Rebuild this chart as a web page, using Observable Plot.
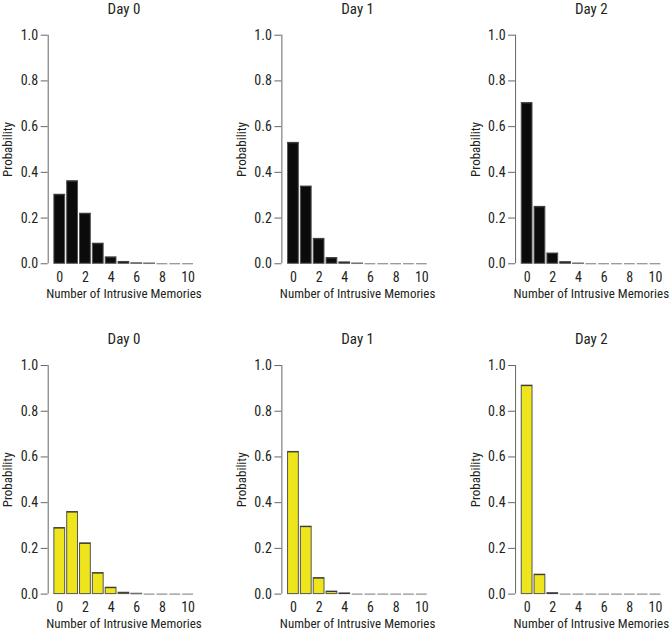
<!DOCTYPE html>
<html>
<head>
<meta charset="utf-8">
<script src="https://cdn.jsdelivr.net/npm/d3@7"></script>
<script src="https://cdn.jsdelivr.net/npm/@observablehq/plot@0.6"></script>
<style>
  html, body { margin: 0; padding: 0; background: #fff; }
  #chart svg { font-family: "Liberation Sans Narrow", "Roboto Condensed", "DejaVu Sans Condensed", sans-serif; font-weight: normal; }
</style>
</head>
<body>
<div id="chart"></div>
<script>
// Data
const counts = [0, 1, 2, 3, 4, 5, 6, 7, 8, 9, 10];
const days = ["Day 0", "Day 1", "Day 2"];
const groups = ["Black", "Yellow"];
const blackDay0 = [0.302, 0.361, 0.219, 0.088, 0.028, 0.008, 0.002, 0.001, 0, 0, 0];
const blackDay1 = [0.529, 0.338, 0.109, 0.025, 0.006, 0.001, 0, 0, 0, 0, 0];
const blackDay2 = [0.703, 0.249, 0.045, 0.007, 0.001, 0, 0, 0, 0, 0, 0];
const yellowDay0 = [0.289, 0.359, 0.222, 0.092, 0.028, 0.006, 0.0015, 0, 0, 0, 0];
const yellowDay1 = [0.622, 0.295, 0.070, 0.011, 0.003, 0, 0, 0, 0, 0, 0];
const yellowDay2 = [0.912, 0.085, 0.004, 0, 0, 0, 0, 0, 0, 0, 0];
const yTicks = [0, 0.2, 0.4, 0.6, 0.8, 1.0];
const xTicks = [0, 2, 4, 6, 8, 10];

const series = {
  Black: [blackDay0, blackDay1, blackDay2],
  Yellow: [yellowDay0, yellowDay1, yellowDay2]
};
const rows = [];
for (const g of groups) {
  days.forEach((day, i) => {
    counts.forEach((c, j) => rows.push({group: g, day, count: c, p: series[g][i][j]}));
  });
}
const panels = [];
for (const g of groups) for (const day of days) panels.push({group: g, day});

const half = 0.42;
const xDomain = [-0.9, 10.46];
const xMid = (counts[0] + counts[counts.length - 1]) / 2;
const fontSize = 14;
const labelSize = 13;

const chart = Plot.plot({
  width: 670,
  height: 632,
  marginLeft: 47.7,
  marginRight: 9.1,
  marginTop: 34.7,
  marginBottom: 38.4,
  style: {fontSize: fontSize + "px", color: "#231f20", background: "#fff"},
  fx: {domain: days, paddingInner: 0.376, paddingOuter: 0, round: false, axis: null},
  fy: {domain: groups, paddingInner: 0.308, paddingOuter: 0, round: false, axis: null},
  x: {domain: xDomain, axis: null},
  y: {domain: [0, 1], axis: null},
  marks: [
    Plot.rectY(rows.filter(d => d.group === "Black"), {
      fx: "day", fy: "group",
      x1: d => d.count - half, x2: d => d.count + half, y: "p",
      fill: "#0b0b0b", stroke: "#555", strokeWidth: 1
    }),
    Plot.rectY(rows.filter(d => d.group === "Yellow"), {
      fx: "day", fy: "group",
      x1: d => d.count - half, x2: d => d.count + half, y: "p",
      fill: "#efe51d", stroke: "#555", strokeWidth: 1
    }),
    // top edge of each bar (keeps zero-height bars visible as short lines)
    Plot.ruleY(rows, {
      fx: "day", fy: "group",
      x1: d => d.count - half, x2: d => d.count + half, y: "p",
      stroke: d => d.p > 0.0025 ? "#333" : "#777", strokeWidth: 1
    }),
    Plot.ruleX(panels, {fx: "day", fy: "group", x: () => xDomain[0], y1: () => 0, y2: () => 1, stroke: "#666"}),
    Plot.axisY({ticks: yTicks, tickFormat: d3.format(".1f"), tickSize: 7, tickPadding: 3,
      stroke: "#666", fill: "#231f20", label: null, facetAnchor: null, fontSize: fontSize}),
    Plot.axisX({ticks: xTicks, tickFormat: d => String(d), tickSize: 0, tickPadding: 8,
      fill: "#231f20", label: null, facetAnchor: null, fontSize: fontSize}),
    Plot.text(panels, {fx: "day", fy: "group", x: () => xMid, frameAnchor: "top", dy: -26,
      lineAnchor: "middle", text: "day", fontSize: 15, fontWeight: "normal", fill: "#231f20"}),
    Plot.text(panels, {fx: "day", fy: "group", x: () => xMid, frameAnchor: "bottom", dy: 30,
      lineAnchor: "middle", text: () => "Number of Intrusive Memories", fontSize: labelSize, fill: "#231f20"}),
    Plot.text(panels, {fx: "day", fy: "group", frameAnchor: "left", dx: -40, rotate: -90,
      textAnchor: "middle", lineAnchor: "middle",
      text: () => "Probability", fontSize: labelSize, fill: "#231f20"})
  ]
});
document.getElementById("chart").appendChild(chart);
</script>
</body>
</html>
